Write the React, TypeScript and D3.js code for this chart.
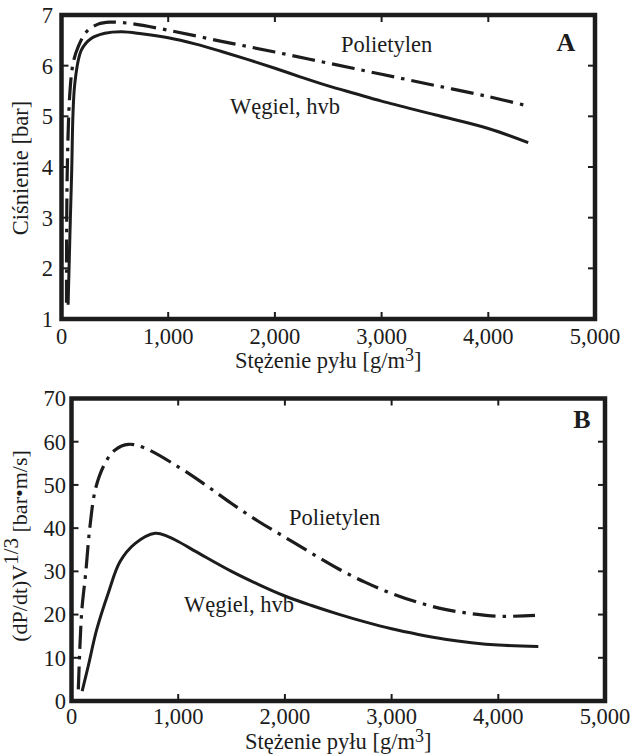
import React from "react";
import * as d3 from "d3";

// ---------- data ----------
const xTicks = [0, 1000, 2000, 3000, 4000, 5000];
const yTicksA = [1, 2, 3, 4, 5, 6, 7];
const yTicksB = [0, 10, 20, 30, 40, 50, 60, 70];

// Panel A: pressure [bar] vs dust concentration [g/m3]
const coalPressure: [number, number][] = [
  [62, 1.28], [94, 3.8], [125, 5.65], [187, 6.31], [281, 6.54], [406, 6.64],
  [563, 6.67], [750, 6.63], [1000, 6.55], [1250, 6.43], [1500, 6.28],
  [1750, 6.12], [2000, 5.95], [2250, 5.77], [2500, 5.6], [2750, 5.45],
  [3000, 5.3], [3500, 5.03], [4000, 4.76], [4374, 4.48],
];
const pePressure: [number, number][] = [
  [47, 1.32], [53, 3.8], [78, 5.45], [109, 6.05], [156, 6.37], [234, 6.67],
  [343, 6.82], [453, 6.86], [656, 6.83], [1000, 6.7], [1500, 6.48],
  [2000, 6.27], [2500, 6.05], [3000, 5.83], [3500, 5.61], [4000, 5.39], [4359, 5.21],
];

// Panel B: (dP/dt)V^1/3 [bar·m/s] vs dust concentration
const coalRate: [number, number][] = [
  [100, 2.3], [157, 8.1], [236, 16.5], [345, 25], [454, 32.2], [595, 36.4],
  [783, 38.8], [900, 38.1], [1000, 36.9], [1200, 34.1], [1500, 30.0],
  [1750, 27.0], [2000, 24.3], [2250, 22.1], [2500, 20.1], [2750, 18.3],
  [3000, 16.7], [3250, 15.4], [3500, 14.3], [3750, 13.5], [4000, 12.95], [4375, 12.6],
];
const peRate: [number, number][] = [
  [64, 2.7], [95, 20.4], [133, 29.6], [173, 40.4], [227, 49.3], [314, 55],
  [408, 58.1], [533, 59.4], [689, 58.5], [1000, 54.2], [1250, 50.1],
  [1500, 45.7], [1750, 41.6], [2000, 37.9], [2250, 34.2], [2500, 30.6],
  [2750, 27.5], [3000, 24.9], [3250, 22.8], [3500, 21.2], [3750, 20.2],
  [4000, 19.6], [4344, 19.8],
];

const FONT = "'Liberation Serif', 'Times New Roman', serif";
const INK = "#1c1c1c";
const FS = 22.5;

type PanelProps = {
  xRange: [number, number];
  yRange: [number, number];
  yDomain: [number, number];
  yTicks: number[];
  yLabelX: number;
  xLabelBaseline: number;
  xTitleBaseline: number;
  solid: [number, number][];
  dashed: [number, number][];
  letter: string;
  letterPos: [number, number];
  peLabel: [number, number];
  coalLabel: [number, number];
  yTitle: React.ReactNode;
  yTitlePos: [number, number];
  yTitleSize: number;
};

function Panel(p: PanelProps) {
  const x = d3.scaleLinear().domain([0, 5000]).range(p.xRange);
  const y = d3.scaleLinear().domain(p.yDomain).range(p.yRange);
  const line = d3
    .line<[number, number]>()
    .x((d) => x(d[0]))
    .y((d) => y(d[1]))
    .curve(d3.curveCatmullRom.alpha(0.5));
  const [x0, x1] = p.xRange;
  const [yb, yt] = p.yRange;
  const tl = 7;
  const fmt = d3.format(",");
  return (
    <g>
      <path d={line(p.dashed) || ""} fill="none" stroke={INK} strokeWidth={3.2} strokeDasharray="23 7 3.5 7" />
      <path d={line(p.solid) || ""} fill="none" stroke={INK} strokeWidth={3} />
      {xTicks.slice(1, -1).map((t) => (
        <g key={"xt" + t}>
          <line x1={x(t)} x2={x(t)} y1={yb} y2={yb - tl} stroke={INK} strokeWidth={2} />
          <line x1={x(t)} x2={x(t)} y1={yt} y2={yt + tl} stroke={INK} strokeWidth={2} />
        </g>
      ))}
      {p.yTicks.slice(1, -1).map((t) => (
        <g key={"yt" + t}>
          <line x1={x0} x2={x0 + tl} y1={y(t)} y2={y(t)} stroke={INK} strokeWidth={2} />
          <line x1={x1} x2={x1 - tl} y1={y(t)} y2={y(t)} stroke={INK} strokeWidth={2} />
        </g>
      ))}
      <rect x={x0} y={yt} width={x1 - x0} height={yb - yt} fill="none" stroke={INK} strokeWidth={4.5} />
      {xTicks.map((t) => (
        <text key={"xl" + t} x={x(t)} y={p.xLabelBaseline} textAnchor="middle" fontSize={FS} fontFamily={FONT} fill={INK}>
          {fmt(t)}
        </text>
      ))}
      {p.yTicks.map((t) => (
        <text key={"yl" + t} x={p.yLabelX} y={y(t)} dy="0.35em" textAnchor="end" fontSize={FS} fontFamily={FONT} fill={INK}>
          {t}
        </text>
      ))}
      <text x={(x0 + x1) / 2} y={p.xTitleBaseline} textAnchor="middle" fontSize={FS} fontFamily={FONT} fill={INK}>
        Stężenie pyłu [g/m
        <tspan fontSize={18} dy={-7}>3</tspan>
        <tspan dy={7}>]</tspan>
      </text>
      <text
        transform={`translate(${p.yTitlePos[0]},${p.yTitlePos[1]}) rotate(-90)`}
        textAnchor="middle"
        fontSize={p.yTitleSize}
        fontFamily={FONT}
        fill={INK}
      >
        {p.yTitle}
      </text>
      <text x={p.peLabel[0]} y={p.peLabel[1]} fontSize={FS} fontFamily={FONT} fill={INK}>Polietylen</text>
      <text x={p.coalLabel[0]} y={p.coalLabel[1]} fontSize={FS} fontFamily={FONT} fill={INK}>Węgiel, hvb</text>
      <text x={p.letterPos[0]} y={p.letterPos[1]} textAnchor="middle" fontSize={26} fontWeight="bold" fontFamily={FONT} fill={INK}>
        {p.letter}
      </text>
    </g>
  );
}

export default function App() {
  return (
    <svg width={634} height={754} style={{ position: "absolute", left: 0, top: 0, background: "#fff" }}>
      <rect width={634} height={754} fill="#fff" />
      <Panel
        xRange={[61.5, 595]}
        yRange={[319, 15]}
        yDomain={[1, 7]}
        yTicks={yTicksA}
        yLabelX={53}
        xLabelBaseline={344}
        xTitleBaseline={368}
        solid={coalPressure}
        dashed={pePressure}
        letter="A"
        letterPos={[566, 51]}
        peLabel={[341, 52]}
        coalLabel={[230, 114]}
        yTitle="Ciśnienie [bar]"
        yTitlePos={[28, 168]}
        yTitleSize={FS}
      />
      <Panel
        xRange={[71.5, 605]}
        yRange={[701, 398.5]}
        yDomain={[0, 70]}
        yTicks={yTicksB}
        yLabelX={66}
        xLabelBaseline={724}
        xTitleBaseline={749}
        solid={coalRate}
        dashed={peRate}
        letter="B"
        letterPos={[582, 428]}
        peLabel={[289, 525]}
        coalLabel={[184, 612]}
        yTitle={
          <>
            (dP/dt)V
            <tspan fontSize={21} dy={-9}>1/3</tspan>
            <tspan dy={9}> [bar•m/s]</tspan>
          </>
        }
        yTitlePos={[27, 546]}
        yTitleSize={22}
      />
    </svg>
  );
}
